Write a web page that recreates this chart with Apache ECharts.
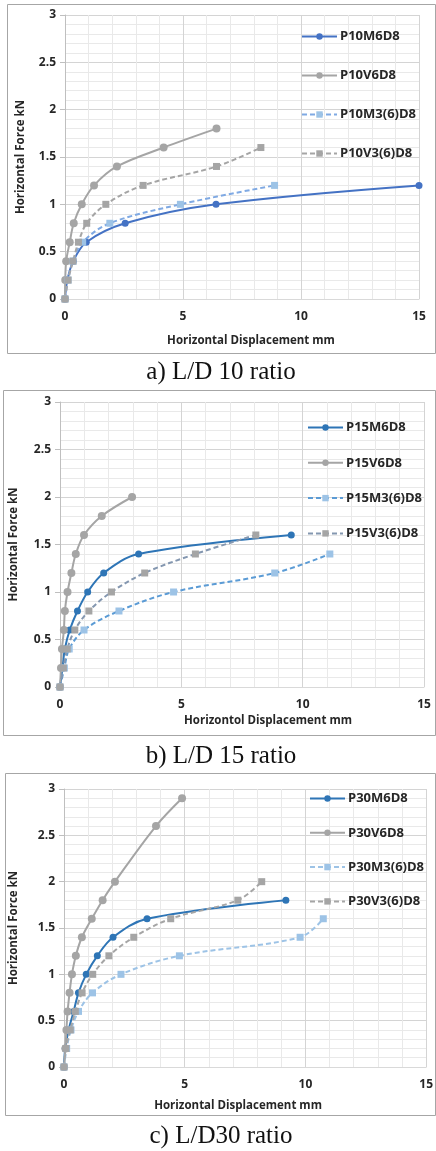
<!DOCTYPE html>
<html><head><meta charset="utf-8">
<script src="https://cdn.jsdelivr.net/npm/echarts@6/dist/echarts.min.js"></script>
<style>html,body{margin:0;padding:0;background:#fff}#c{width:436px;height:1151px}</style>
</head><body><div id="c"></div>
<script>
// ---------- data (force kN vs displacement mm) ----------
const xTicks = [0, 5, 10, 15];
const yTicks = [0, 0.5, 1, 1.5, 2, 2.5, 3];

// Panel a) L/D 10
const namesA = ['P10M6D8', 'P10V6D8', 'P10M3(6)D8', 'P10V3(6)D8'];
const forceA_M6 = [0, 0.2, 0.4, 0.6, 0.8, 1.0, 1.2];
const dispA_M6  = [0, 0.1, 0.35, 0.9, 2.55, 6.4, 15];
const forceA_V6 = [0, 0.2, 0.4, 0.6, 0.8, 1.0, 1.2, 1.4, 1.6, 1.8];
const dispA_V6  = [0, 0.01, 0.05, 0.2, 0.37, 0.71, 1.23, 2.2, 4.18, 6.42];
const forceA_M3 = [0, 0.2, 0.4, 0.6, 0.8, 1.0, 1.2];
const dispA_M3  = [0, 0.13, 0.34, 0.75, 1.9, 4.89, 8.88];
const forceA_V3 = [0, 0.2, 0.4, 0.6, 0.8, 1.0, 1.2, 1.4, 1.6];
const dispA_V3  = [0, 0.13, 0.34, 0.57, 0.92, 1.73, 3.31, 6.42, 8.3];

// Panel b) L/D 15
const namesB = ['P15M6D8', 'P15V6D8', 'P15M3(6)D8', 'P15V3(6)D8'];
const forceB_M6 = [0, 0.2, 0.4, 0.6, 0.8, 1.0, 1.2, 1.4, 1.6];
const dispB_M6  = [0, 0.1, 0.2, 0.4, 0.72, 1.14, 1.8, 3.24, 9.53];
const forceB_V6 = [0, 0.2, 0.4, 0.6, 0.8, 1.0, 1.2, 1.4, 1.6, 1.8, 2.0];
const dispB_V6  = [0, 0.04, 0.08, 0.16, 0.2, 0.31, 0.47, 0.65, 0.99, 1.72, 2.97];
const forceB_M3 = [0, 0.2, 0.4, 0.6, 0.8, 1.0, 1.2, 1.4];
const dispB_M3  = [0, 0.18, 0.38, 0.99, 2.43, 4.68, 8.85, 11.12];
const forceB_V3 = [0, 0.2, 0.4, 0.6, 0.8, 1.0, 1.2, 1.4, 1.6];
const dispB_V3  = [0, 0.14, 0.3, 0.61, 1.19, 2.12, 3.49, 5.58, 8.07];

// Panel c) L/D 30
const namesC = ['P30M6D8', 'P30V6D8', 'P30M3(6)D8', 'P30V3(6)D8'];
const forceC_M6 = [0, 0.2, 0.4, 0.6, 0.8, 1.0, 1.2, 1.4, 1.6, 1.8];
const dispC_M6  = [0, 0.05, 0.19, 0.4, 0.6, 0.92, 1.38, 2.03, 3.44, 9.19];
const forceC_V6 = [0, 0.2, 0.4, 0.6, 0.8, 1.0, 1.2, 1.4, 1.6, 1.8, 2.0, 2.6, 2.9];
const dispC_V6  = [0, 0.06, 0.1, 0.15, 0.23, 0.33, 0.49, 0.74, 1.15, 1.6, 2.11, 3.81, 4.89];
const forceC_M3 = [0, 0.2, 0.4, 0.6, 0.8, 1.0, 1.2, 1.4, 1.6];
const dispC_M3  = [0, 0.11, 0.29, 0.6, 1.18, 2.36, 4.78, 9.78, 10.74];
const forceC_V3 = [0, 0.2, 0.4, 0.6, 0.8, 1.0, 1.2, 1.4, 1.6, 1.8, 2.0];
const dispC_V3  = [0, 0.08, 0.26, 0.47, 0.75, 1.19, 1.86, 2.89, 4.42, 7.2, 8.19];

const xNames = ['Horizontal Displacement mm', 'Horizontol Displacement mm', 'Horizontal Displacement mm'];
const yName = 'Horizontal Force kN';
const captions = ['a) L/D 10 ratio', 'b) L/D 15 ratio', 'c) L/D30 ratio'];

// ---------- chart ----------
const zip = (xs, ys) => xs.map((x, i) => [x, ys[i]]);
const FONT = 'Open Sans';
const grids = [
  {left: 65, top: 15, width: 354, height: 284},
  {left: 55, top: 402, width: 369, height: 285},
  {left: 62, top: 789, width: 365, height: 278}
];
const xNamePad = [18, 52, -14];
const xNameGap = [36, 28, 33];
const yNameGap = [38, 40, 44];
const legendPos = [
  {left: 296, top: 25, gap: 26},
  {left: 302, top: 416, gap: 22.3},
  {left: 304, top: 787, gap: 21.3}
];

const styles = [
  [ {c: '#4472C4', m: '#4472C4', sym: 'circle', dash: 'solid'},
    {c: '#A5A5A5', m: '#A5A5A5', sym: 'circle', dash: 'solid'},
    {c: '#7FA9E3', m: '#9DC3E6', sym: 'rect', dash: [5, 3]},
    {c: '#A5A5A5', m: '#A5A5A5', sym: 'rect', dash: [5, 3]} ],
  [ {c: '#2E75B6', m: '#2E75B6', sym: 'circle', dash: 'solid'},
    {c: '#A5A5A5', m: '#A5A5A5', sym: 'circle', dash: 'solid'},
    {c: '#5B9BD5', m: '#9DC3E6', sym: 'rect', dash: [5, 3]},
    {c: '#8497B0', m: '#A5A5A5', sym: 'rect', dash: [5, 3]} ],
  [ {c: '#2E75B6', m: '#2E75B6', sym: 'circle', dash: 'solid'},
    {c: '#A5A5A5', m: '#A5A5A5', sym: 'circle', dash: 'solid'},
    {c: '#9DC3E6', m: '#9DC3E6', sym: 'rect', dash: [5, 3]},
    {c: '#A5A5A5', m: '#A5A5A5', sym: 'rect', dash: [5, 3]} ]
];

const panelData = [
  [zip(dispA_M6, forceA_M6), zip(dispA_V6, forceA_V6), zip(dispA_M3, forceA_M3), zip(dispA_V3, forceA_V3)],
  [zip(dispB_M6, forceB_M6), zip(dispB_V6, forceB_V6), zip(dispB_M3, forceB_M3), zip(dispB_V3, forceB_V3)],
  [zip(dispC_M6, forceC_M6), zip(dispC_V6, forceC_V6), zip(dispC_M3, forceC_M3), zip(dispC_V3, forceC_V3)]
];
const panelNames = [namesA, namesB, namesC];

const xAxis = [], yAxis = [], series = [], legend = [];
for (let p = 0; p < 3; p++) {
  xAxis.push({
    type: 'value', gridIndex: p, min: xTicks[0], max: xTicks[xTicks.length - 1], interval: 5,
    name: xNames[p], nameLocation: 'middle', nameGap: xNameGap[p],
    nameTextStyle: {fontFamily: FONT, fontWeight: 'bold', fontSize: 11.5, color: '#262626',
      padding: xNamePad[p] >= 0 ? [0, 0, 0, xNamePad[p]] : [0, -xNamePad[p], 0, 0]},
    axisLine: {show: true, lineStyle: {color: '#D9D9D9', width: 1}},
    axisTick: {show: false},
    axisLabel: {fontFamily: FONT, fontWeight: 'bold', fontSize: 12, color: '#262626', margin: 12},
    splitLine: {show: true, lineStyle: {color: '#D4D4D4', width: 1}},
    minorTick: {show: false, splitNumber: 5},
    minorSplitLine: {show: true, lineStyle: {color: '#E9E9E9', width: 1}}
  });
  yAxis.push({
    type: 'value', gridIndex: p, min: yTicks[0], max: yTicks[yTicks.length - 1], interval: 0.5,
    name: yName, nameLocation: 'middle', nameGap: yNameGap[p], nameRotate: 90,
    nameTextStyle: {fontFamily: FONT, fontWeight: 'bold', fontSize: 11.5, color: '#262626'},
    axisLine: {show: true, lineStyle: {color: '#BFBFBF', width: 1}},
    axisTick: {show: true, length: 5, lineStyle: {color: '#BFBFBF'}},
    axisLabel: {fontFamily: FONT, fontWeight: 'bold', fontSize: 12, color: '#262626', margin: 9},
    splitLine: {show: true, lineStyle: {color: '#D4D4D4', width: 1}},
    minorTick: {show: false, splitNumber: 5},
    minorSplitLine: {show: true, lineStyle: {color: '#E9E9E9', width: 1}}
  });
  for (let s = 0; s < 4; s++) {
    const st = styles[p][s];
    series.push({
      type: 'line', name: panelNames[p][s], xAxisIndex: p, yAxisIndex: p,
      data: panelData[p][s], smooth: 0.35, symbol: st.sym,
      symbolSize: st.sym === 'circle' ? (s === 1 ? 8 : 7) : 7,
      lineStyle: {color: st.c, width: 2, type: st.dash},
      itemStyle: {color: st.m},
      emphasis: {disabled: true}, animation: false
    });
  }
  legend.push({
    data: panelNames[p], orient: 'vertical', left: legendPos[p].left, top: legendPos[p].top,
    itemWidth: 35, itemHeight: 8, itemGap: legendPos[p].gap,
    textStyle: {fontFamily: FONT, fontWeight: 'bold', fontSize: 13, color: '#262626', padding: [0, 0, 0, -2]},
    selectedMode: false
  });
}

const boxes = [
  {x: 7, y: 4, w: 428, h: 349},
  {x: 3, y: 390, w: 432, h: 345},
  {x: 5, y: 773, w: 430, h: 342}
];
const capY = [372, 756, 1136];
const graphic = [];
boxes.forEach((b, i) => {
  graphic.push({type: 'rect', shape: {x: b.x + 0.5, y: b.y + 0.5, width: b.w, height: b.h},
    style: {fill: 'none', stroke: '#A6A6A6', lineWidth: 1}, silent: true, z: -1});
  graphic.push({type: 'text', x: 221, y: capY[i],
    style: {text: captions[i], font: '25px "Liberation Serif"', fill: '#111', textAlign: 'center', textVerticalAlign: 'middle'},
    silent: true});
});

const chart = echarts.init(document.getElementById('c'), null, {renderer: 'canvas'});
chart.setOption({
  animation: false,
  grid: grids.map(g => Object.assign({containLabel: false}, g)),
  xAxis, yAxis, series, legend, graphic
});
</script></body></html>
